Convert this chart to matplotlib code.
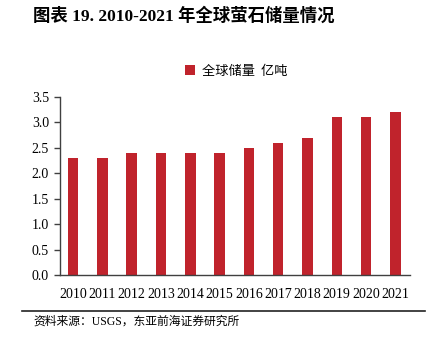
import matplotlib.pyplot as plt
import numpy as np

years = ['2010', '2011', '2012', '2013', '2014', '2015', '2016', '2017', '2018', '2019', '2020', '2021']
reserves = [2.3, 2.3, 2.4, 2.4, 2.4, 2.4, 2.5, 2.6, 2.7, 3.1, 3.1, 3.2]

serif_cjk = ['Liberation Serif', 'Noto Sans CJK SC']
plt.rcParams['font.family'] = serif_cjk

fig = plt.figure(figsize=(4.37, 3.39), dpi=100)
ax = fig.add_axes([60 / 437, 1 - 275 / 339, 350 / 437, 178 / 339])

x = np.arange(len(years))
ax.bar(x, reserves, width=0.36, color='#C0232C', label='全球储量  亿吨')

ax.set_ylim(0, 3.5)
ax.set_yticks(np.arange(0, 3.51, 0.5))
ax.set_yticklabels(['%.1f' % v for v in np.arange(0, 3.51, 0.5)], fontsize=10)
ax.set_xlim(-0.45, len(years) - 0.5)
ax.set_xticks(x)
ax.set_xticklabels(years, fontsize=10)
ax.tick_params(axis='x', length=0, pad=9)
ax.tick_params(axis='y', length=4, width=1, color='#404040', pad=4)
for s in ['top', 'right']:
    ax.spines[s].set_visible(False)
for s in ['left', 'bottom']:
    ax.spines[s].set_color('#404040')
    ax.spines[s].set_linewidth(1)

leg = fig.legend(loc='center', bbox_to_anchor=(0.54, 1 - 71 / 339), frameon=False,
                 handlelength=0.8, handleheight=0.8, handletextpad=0.5,
                 prop={'family': 'Noto Sans CJK SC', 'size': 9.5})

fig.text(33 / 437, 1 - 16 / 339, '图表 19. 2010-2021 年全球萤石储量情况',
         fontsize=12.5, fontweight='bold', va='center', ha='left')

fig.add_artist(plt.Line2D([22 / 437, 425 / 437], [1 - 311 / 339, 1 - 311 / 339],
                          color='#222222', linewidth=1.2))
fig.text(33 / 437, 1 - 322 / 339, '资料来源：USGS，东亚前海证券研究所',
         fontsize=8.5, va='center', ha='left')

fig.savefig('out.png', dpi=100)
